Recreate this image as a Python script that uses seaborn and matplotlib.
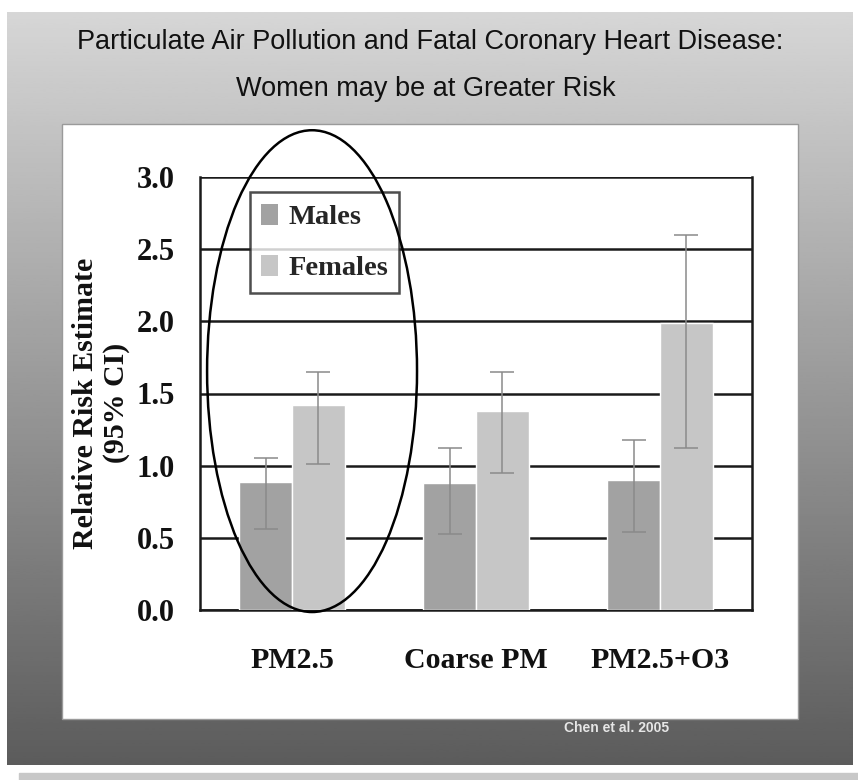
import numpy as np
import pandas as pd
import matplotlib
matplotlib.use("Agg")
import matplotlib.pyplot as plt
from matplotlib.patches import Ellipse, Rectangle, Patch
import seaborn as sns

# Data
exposures = ["PM2.5", "Coarse PM", "PM2.5+O3"]
sexes = ["Males", "Females"]
male_rr = [0.89, 0.88, 0.90]
male_lo = [0.56, 0.53, 0.54]
male_hi = [1.05, 1.12, 1.18]
female_rr = [1.42, 1.38, 1.99]
female_lo = [1.01, 0.95, 1.12]
female_hi = [1.65, 1.65, 2.60]
y_ticks = [0.0, 0.5, 1.0, 1.5, 2.0, 2.5, 3.0]

df = pd.DataFrame({
    "exposure": exposures * 2,
    "sex": [sexes[0]] * 3 + [sexes[1]] * 3,
    "rr": male_rr + female_rr,
    "lo": male_lo + female_lo,
    "hi": male_hi + female_hi,
})

sns.set_theme(style="white")
serif = ["Liberation Serif", "DejaVu Serif"]
sans = ["Liberation Sans", "DejaVu Sans"]

W, H = 858, 780
fig = plt.figure(figsize=(W / 100, H / 100), dpi=100, facecolor="white")

# slide background (pixel coords)
bg = fig.add_axes([0, 0, 1, 1])
bg.set_xlim(0, W)
bg.set_ylim(H, 0)
bg.axis("off")
grad = np.linspace(0.84, 0.36, 256).reshape(-1, 1)
bg.imshow(grad, cmap="gray", vmin=0, vmax=1, aspect="auto",
          extent=(7, 853, 765, 12), zorder=0)
bg.add_patch(Rectangle((19, 773), W - 19, 7, color="#c8c8c8", zorder=1))
bg.add_patch(Rectangle((62, 124), 736, 595, facecolor="white",
                       edgecolor="#9a9a9a", lw=1.0, zorder=2))

fig.text(0.501, 1 - 49 / H, "Particulate Air Pollution and Fatal Coronary Heart Disease:",
         ha="center", va="baseline", fontsize=19.5, family=sans, color="#111111")
fig.text(0.496, 1 - 96 / H, "Women may be at Greater Risk",
         ha="center", va="baseline", fontsize=19.5, family=sans, color="#111111")
fig.text(564 / W, 1 - 728 / H, "Chen et al. 2005", ha="left", va="center",
         fontsize=10, fontweight="bold", family=sans, color="#e6e6e6")

# chart
ax = fig.add_axes([200 / W, 1 - 610 / H, 552 / W, 433 / H])
ax.set_facecolor("white")
colors = ["#a2a2a2", "#c6c6c6"]
sns.barplot(data=df, x="exposure", y="rr", hue="sex", order=exposures,
            hue_order=sexes, palette=colors, width=0.576, gap=0,
            saturation=1, errorbar=None, legend=False, ax=ax, zorder=3)

for cont, sex in zip(ax.containers, sexes):
    sub = df[df["sex"] == sex].set_index("exposure").loc[exposures]
    xs = [b.get_x() + b.get_width() / 2 for b in cont]
    ax.errorbar(xs, sub["rr"], yerr=[sub["rr"] - sub["lo"], sub["hi"] - sub["rr"]],
                fmt="none", ecolor="#8a8a8a", elinewidth=1.1, capsize=8.5,
                capthick=1.1, zorder=4)

ax.set_xlim(-0.5, 2.5)
ax.set_ylim(0, 3.0)
ax.set_yticks(y_ticks)
ax.set_yticklabels([f"{t:.1f}" for t in y_ticks], fontsize=22, fontweight="bold",
                   family=serif)
ax.yaxis.grid(True, color="#1a1a1a", lw=1.8)
ax.set_axisbelow(True)
ax.tick_params(axis="y", direction="inout", length=20, width=1.5, pad=8,
               colors="#111111")
ax.set_xticks(range(len(exposures)))
ax.set_xticklabels(exposures, fontsize=21.5, fontweight="bold", family=serif)
ax.set_xticks([-0.5, 0.5, 1.5, 2.5], minor=True)
ax.tick_params(axis="x", which="major", length=0, pad=27, colors="#111111")
ax.tick_params(axis="x", which="minor", direction="out", length=12, width=1.5,
               color="#111111")
ax.set_xlabel("")
ax.set_ylabel("")
for side in ["left", "right", "bottom"]:
    ax.spines[side].set_visible(True)
    ax.spines[side].set_color("#1a1a1a")
    ax.spines[side].set_linewidth(1.8)
ax.spines["top"].set_visible(False)

fig.text(101 / W, 1 - 403 / H, "Relative Risk Estimate\n(95% CI)", rotation=90,
         ha="center", va="center", multialignment="center", fontsize=21.5,
         fontweight="bold", family=serif, linespacing=1.2, color="#111111")

handles = [Patch(facecolor=c, edgecolor="none") for c in colors]
leg = ax.legend(handles, sexes, loc="upper left", bbox_to_anchor=(0.09, 0.965),
                borderaxespad=0, frameon=True, fancybox=False, handlelength=0.6,
                handleheight=0.8, handletextpad=0.35, labelspacing=0.85,
                borderpad=0.4, prop={"family": serif, "weight": "bold", "size": 20.5})
leg.get_frame().set_edgecolor("#222222")
leg.get_frame().set_linewidth(1.8)
leg.set_zorder(5)

# hand-drawn ellipse around the PM2.5 group
ax.add_patch(Ellipse((0.109, 1.655), 1.141, 3.338, fill=False, edgecolor="black",
                     lw=1.8, clip_on=False, zorder=6))

fig.savefig("out.png", dpi=100, facecolor=fig.get_facecolor())
